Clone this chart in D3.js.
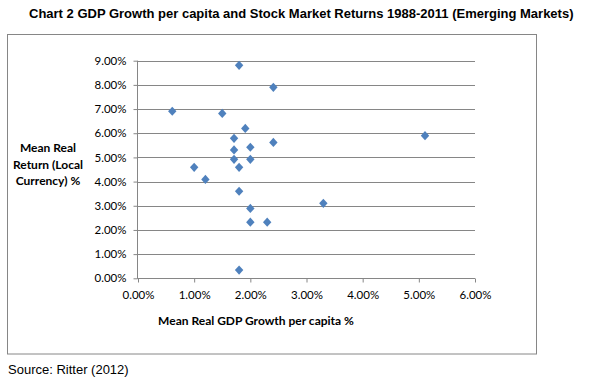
<!DOCTYPE html>
<html>
<head>
<meta charset="utf-8">
<script src="https://cdn.jsdelivr.net/npm/d3@7"></script>
<style>
  html, body { margin: 0; padding: 0; background: #fff; }
  svg { display: block; }
</style>
</head>
<body>
<svg id="chart" width="590" height="382"></svg>
<script>
// Data (percent values)
const gdpGrowth = [1.80, 2.41, 0.61, 1.50, 1.91, 1.71, 2.41, 2.00, 1.71, 1.71, 2.00, 1.00, 1.80, 1.20, 1.80, 2.00, 2.00, 2.30, 1.80, 3.30, 5.11];
const realReturn = [8.81, 7.90, 6.91, 6.82, 6.20, 5.79, 5.62, 5.42, 5.31, 4.92, 4.92, 4.59, 4.59, 4.09, 3.60, 2.89, 2.32, 2.32, 0.34, 3.10, 5.90];
const xTicks = [0, 1, 2, 3, 4, 5, 6];
const yTicks = [0, 1, 2, 3, 4, 5, 6, 7, 8, 9];

const title = "Chart 2 GDP Growth per capita and Stock Market Returns 1988-2011 (Emerging Markets)";
const xTitle = "Mean Real GDP Growth per capita %";
const yTitleLines = ["Mean Real", "Return (Local", "Currency) %"];
const source = "Source: Ritter (2012)";

const svg = d3.select("#chart");
const x = d3.scaleLinear().domain([0, 6]).range([138, 475]);
const y = d3.scaleLinear().domain([0, 9]).range([278.3, 60.7]);
const fmt = d => d.toFixed(2) + "%";
const gray = "#868686";
const tickFont = "Lato, 'Open Sans', sans-serif";

// Outer chart border
svg.append("rect")
  .attr("x", 7.5).attr("y", 34.5).attr("width", 529).attr("height", 319.5)
  .attr("fill", "none").attr("stroke", gray).attr("stroke-width", 1);

// Title
svg.append("text")
  .attr("x", 29).attr("y", 18)
  .attr("font-family", "'Liberation Sans', Arial, sans-serif")
  .attr("font-weight", "bold").attr("font-size", 13)
  .attr("fill", "#000")
  .text(title);

// Gridlines
svg.append("g").selectAll("line").data(yTicks.filter(d => d > 0)).join("line")
  .attr("x1", x(0)).attr("x2", x(6))
  .attr("y1", d => Math.round(y(d)) + 0.5).attr("y2", d => Math.round(y(d)) + 0.5)
  .attr("stroke", gray).attr("stroke-width", 1);

// Y axis
const yAxis = svg.append("g")
  .attr("transform", `translate(${Math.round(x(0)) - 0.5},0)`)
  .call(d3.axisLeft(y).tickValues(yTicks).tickFormat(fmt).tickSize(4).tickPadding(7));
// X axis
const xAxis = svg.append("g")
  .attr("transform", `translate(0,${Math.round(y(0)) + 0.5})`)
  .call(d3.axisBottom(x).tickValues(xTicks).tickFormat(fmt).tickSize(4).tickPadding(8));

[yAxis, xAxis].forEach(g => {
  g.select(".domain").attr("stroke", gray).attr("d", function() { return d3.select(this).attr("d").replace(/M[^VH]*[VH][^VH]*[VH]/, m => m); });
  g.selectAll(".tick line").attr("stroke", gray);
  g.selectAll("text").attr("font-family", tickFont).attr("font-size", 11.5).attr("fill", "#000");
});
// Remove outer tick caps of domain by redrawing plain lines
yAxis.select(".domain").remove();
xAxis.select(".domain").remove();
svg.append("line")
  .attr("x1", Math.round(x(0)) - 0.5).attr("x2", Math.round(x(0)) - 0.5)
  .attr("y1", y(9)).attr("y2", y(0) + 0.5)
  .attr("stroke", gray);
svg.append("line")
  .attr("x1", x(0) - 0.5).attr("x2", x(6))
  .attr("y1", Math.round(y(0)) + 0.5).attr("y2", Math.round(y(0)) + 0.5)
  .attr("stroke", gray);

// Points (diamonds)
const diamond = "M0,-4.6L4.2,0L0,4.6L-4.2,0Z";
svg.append("g").selectAll("path").data(gdpGrowth.map((g, i) => [g, realReturn[i]])).join("path")
  .attr("transform", d => `translate(${x(d[0])},${y(d[1])})`)
  .attr("d", diamond)
  .attr("fill", "#4F81BD");

// Y title
svg.append("text")
  .attr("font-family", tickFont).attr("font-weight", "bold").attr("font-size", 12)
  .attr("text-anchor", "middle").attr("fill", "#000")
  .selectAll("tspan").data(yTitleLines).join("tspan")
  .attr("x", 48).attr("y", (d, i) => 152 + i * 16.5)
  .text(d => d);

// X title
svg.append("text")
  .attr("x", 256).attr("y", 325)
  .attr("text-anchor", "middle")
  .attr("font-family", tickFont).attr("font-weight", "bold").attr("font-size", 12)
  .attr("fill", "#000")
  .text(xTitle);

// Source
svg.append("text")
  .attr("x", 8).attr("y", 374)
  .attr("font-family", "'Liberation Sans', Arial, sans-serif")
  .attr("font-size", 13).attr("fill", "#000")
  .text(source);
</script>
</body>
</html>
